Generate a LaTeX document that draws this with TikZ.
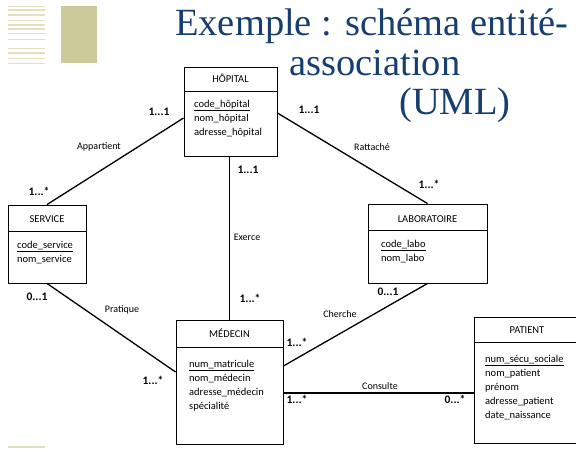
\documentclass[tikz,border=0pt]{standalone}
\usepackage{fontspec}
\setmainfont{Carlito}
\newfontfamily\titlefont{Liberation Serif}
\usetikzlibrary{positioning,calc}
\definecolor{titleblue}{RGB}{23,62,112}
\definecolor{olive}{RGB}{204,202,155}
\definecolor{stripe}{RGB}{226,224,192}
\tikzset{
  entity/.style={
    draw,
    line width=0.9pt,
    rectangle,
    inner sep=0pt
  },
  head/.style={anchor=base,inner sep=0pt,font=\fontsize{10.5}{13}\selectfont},
  attrs/.style={anchor=north west,inner sep=0pt,align=left,
    font=\fontsize{10.5}{14}\selectfont},
  mult/.style={inner sep=0pt,font=\fontsize{11.5}{12}\selectfont\bfseries},
  assoc/.style={inner sep=0pt,font=\fontsize{10}{12}\selectfont},
  link/.style={line width=1.3pt},
  slidetitle/.style={anchor=base west,inner sep=0pt,text=titleblue,
    font=\titlefont\fontsize{38.5}{40}\selectfont}
}

\begin{document}
\begin{tikzpicture}[x=1pt,y=-1pt]
\useasboundingbox (0,0) rectangle (576,451);
\clip (0,0) rectangle (576,451);
% slide decoration
\foreach \y/\w in {6/0.8,10/1.2,15/1.2,20/1,25/1.2,29/1.5,33/1,39/1,48/1,53/1.2,58/1,63/0.8}
  \draw[stripe,line width=\w pt] (8,\y) -- (45,\y);
\fill[olive] (61,6) rectangle (97,63);
\draw[stripe,line width=1.2pt] (8,447) -- (45,447);
% title
\node (t1) [slidetitle] at (175,35) {Exemple : schéma entité-};
\node (t2) [slidetitle] at (289,75) {association};
\node (t3) [slidetitle] at (399,114) {(UML)};
% entities
\node (hop) [entity,minimum width=93pt,minimum height=89pt] at (230.5,111.5) {};
\node (hopt) [head] at (230.5,82) {HÔPITAL};
\draw[line width=0.9pt] (hop.west |- 0,91) -- (hop.east |- 0,91);
\node (hopa) [attrs] at (194,100) {\underline{code\_hôpital}\\nom\_hôpital\\adresse\_hôpital};

\node (serv) [entity,minimum width=78pt,minimum height=78pt] at (47,244) {};
\node (servt) [head] at (47,222) {SERVICE};
\draw[line width=0.9pt] (serv.west |- 0,231) -- (serv.east |- 0,231);
\node (serva) [attrs] at (17,241) {\underline{code\_service}\\nom\_service};

\node (labo) [entity,minimum width=119pt,minimum height=79pt] at (427.5,243.5) {};
\node (labot) [head] at (427.5,222) {LABORATOIRE};
\draw[line width=0.9pt] (labo.west |- 0,230) -- (labo.east |- 0,230);
\node (laboa) [attrs] at (381,240) {\underline{code\_labo}\\nom\_labo};

\node (med) [entity,minimum width=107pt,minimum height=124pt] at (229.5,382) {};
\node (medt) [head] at (229.5,337) {MÉDECIN};
\draw[line width=0.9pt] (med.west |- 0,347) -- (med.east |- 0,347);
\node (meda) [attrs] at (189,360) {\underline{num\_matricule}\\nom\_médecin\\adresse\_médecin\\spécialité};

\node (pat) [entity,minimum width=106pt,minimum height=126pt] at (527,380) {};
\node (patt) [head] at (527,333) {PATIENT};
\draw[line width=0.9pt] (pat.west |- 0,342) -- (pat.east |- 0,342);
\node (pata) [attrs] at (485,355) {\underline{num\_sécu\_sociale}\\nom\_patient\\prénom\\adresse\_patient\\date\_naissance};

% associations
\draw[link] (serv.north) -- ([yshift=-6.5pt]hop.west);
\draw[link] ([yshift=-1.5pt]hop.east) -- (labo.north);
\draw[link] (med.north |- hop.south) -- (med.north);
\draw[link] (serv.south) -- ([yshift=10pt]med.west);
\draw[link] ([yshift=16pt]med.east) -- (labo.south);
\draw[link] ([yshift=-11pt]med.east) coordinate (cons) -- (cons -| pat.west);

\node (appa) [assoc] at (99,147) {Appartient};
\node (ratt) [assoc] at (372,147) {Rattaché};
\node (exer) [assoc] at (247,237) {Exerce};
\node (prat) [assoc] at (122,310) {Pratique};
\node (cher) [assoc] at (340,314) {Cherche};
\node (consl) [assoc] at (380,386) {Consulte};

% multiplicities
\node (m1) [mult] at (159,112) {1...1};
\node (m2) [mult] at (39,191) {1...*};
\node (m3) [mult] at (309,110) {1...1};
\node (m4) [mult] at (429,184) {1...*};
\node (m5) [mult] at (248,170) {1...1};
\node (m6) [mult] at (250,298) {1...*};
\node (m7) [mult] at (37,297) {0...1};
\node (m8) [mult] at (153,380) {1...*};
\node (m9) [mult] at (388,292) {0...1};
\node (m10) [mult] at (297,342) {1...*};
\node (m11) [mult] at (297,399) {1...*};
\node (m12) [mult] at (455,399) {0...*};
\end{tikzpicture}
\end{document}
